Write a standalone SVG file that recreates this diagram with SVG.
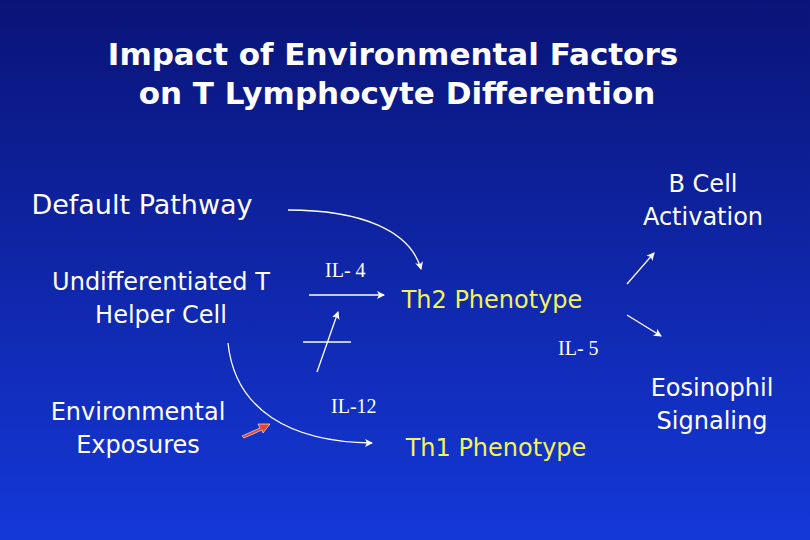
<svg xmlns="http://www.w3.org/2000/svg" width="810" height="540" viewBox="0 0 810 540">
<defs>
<linearGradient id="bg" x1="0" y1="0" x2="0" y2="1">
<stop offset="0" stop-color="#0a1478"/><stop offset="1" stop-color="#1438d8"/>
</linearGradient>
<marker id="ah" markerWidth="8" markerHeight="8" refX="7" refY="4" orient="auto" markerUnits="userSpaceOnUse"><path d="M0,0 L8,4 L0,8 L2,4 Z" fill="#fff"/></marker>
<style>
.t{font-family:"DejaVu Sans",Verdana,sans-serif;fill:#fff;font-size:24px;text-anchor:middle}
.h{font-size:31px;font-weight:bold}
.d{font-size:27px}
.y{fill:#f2f25a}
.s{font-family:"Liberation Serif",serif;fill:#fff;font-size:20px}
.c{fill:none;stroke:#fff;stroke-width:1.3}
</style>
</defs>
<rect width="810" height="540" fill="url(#bg)"/>
<g id="title"><text class="t h" x="393" y="65">Impact of Environmental Factors</text>
<text class="t h" x="397" y="104">on T Lymphocyte Differention</text></g>
<g id="default"><text class="t d" x="142" y="214">Default Pathway</text></g>
<g id="undiff"><text class="t" x="161" y="290">Undifferentiated T</text><text class="t" x="161" y="323">Helper Cell</text></g>
<g id="env"><text class="t" x="138" y="420">Environmental</text><text class="t" x="138" y="453">Exposures</text></g>
<g id="bcell"><text class="t" x="703" y="192">B Cell</text><text class="t" x="703" y="225">Activation</text></g>
<g id="eos"><text class="t" x="712" y="396">Eosinophil</text><text class="t" x="712" y="429">Signaling</text></g>
<g id="th2"><text class="t y" x="492" y="308">Th2 Phenotype</text></g>
<g id="th1"><text class="t y" x="496" y="456">Th1 Phenotype</text></g>
<g id="labels"><text class="s" x="325" y="277">IL- 4</text><text class="s" x="558" y="355">IL- 5</text><text class="s" x="331" y="413">IL-12</text></g>
<g id="connectors">
<path class="c" d="M288,210 C360,210 410,230 421,269" marker-end="url(#ah)"/>
<path class="c" d="M309,295 L384,295" marker-end="url(#ah)"/>
<path class="c" d="M317,372 L338,312" marker-end="url(#ah)"/>
<path class="c" d="M303,342 L351,342"/>
<path class="c" d="M228,343 C235,410 290,442 372,443" marker-end="url(#ah)"/>
<path class="c" d="M627,284 L654,253" marker-end="url(#ah)"/>
<path class="c" d="M627,315 L661,336" marker-end="url(#ah)"/>
<path d="M242,436 L260,428 L258,424 L270,424 L263,433 L262,430 L244,438 Z" fill="#e8442a" stroke="#fff" stroke-width="0.6"/>
</g>
</svg>
